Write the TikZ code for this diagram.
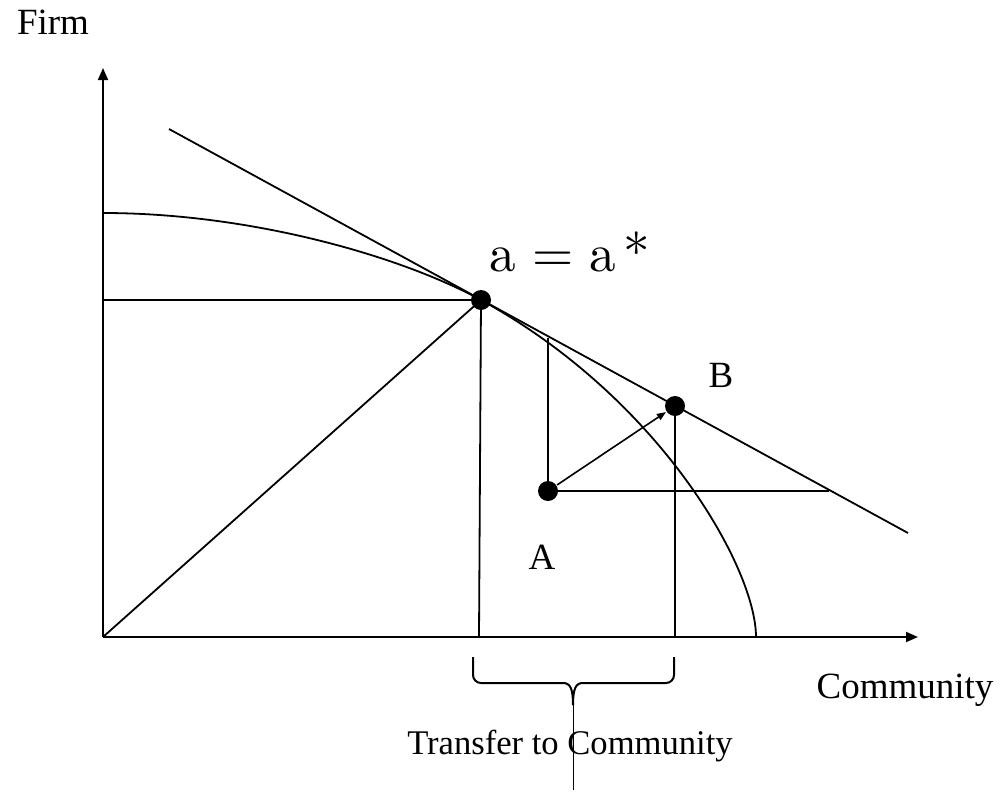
\documentclass[tikz,border=0pt]{standalone}
\usepackage{fontspec}
\setmainfont{Liberation Serif}
\newfontfamily\lmfont{lmroman10-regular.otf}
\usetikzlibrary{arrows.meta}
\begin{document}
\begin{tikzpicture}[x=1pt,y=-1pt,line width=1.8pt,line join=round,
  dot/.style={circle,fill=black,inner sep=0pt,minimum size=20pt},
  lbl/.style={font=\fontsize{37}{40}\selectfont,inner sep=0pt,anchor=center},
  lblsmall/.style={font=\fontsize{34.6}{38}\selectfont,inner sep=0pt,anchor=center},
  big/.style={font=\lmfont\fontsize{53}{57}\selectfont,inner sep=0pt,anchor=base},
  axis/.style={-{Triangle[length=12pt,width=10pt]}},
  move/.style={-{Triangle[length=9pt,width=7pt]},line width=1.6pt}]
\useasboundingbox (0,0) rectangle (1002,793);
% coordinates
\coordinate (O) at (103,637);
\coordinate (ytip) at (103,68);
\coordinate (xtip) at (918,637);
\coordinate (T1) at (169,129);
\coordinate (T2) at (908,533);
\coordinate (Y0) at (103,213);
\coordinate (Yh) at (103,300);
\coordinate (X0) at (756,637);
\coordinate (Sb) at (479,637);
\coordinate (Bb) at (675,637);
\coordinate (Av) at (548,338);
\coordinate (Ah) at (829,491);
% points
\node[dot] (S) at (481,300) {};
\node[dot] (A) at (548,491) {};
\node[dot] (B) at (675,406) {};
% axes
\draw[axis] (O) -- (ytip);
\draw[axis] (O) -- (xtip);
% tangent line
\draw (T1) -- (T2);
% frontier curve
\draw (Y0) .. controls (250,213) and (400,255.7) .. (S.center)
           .. controls (660,398) and (756,568) .. (X0);
% lines from tangent point
\draw (Yh) -- (S.center);
\draw (O) -- (S.center);
\draw (S.center) -- (Sb);
% lines from A
\draw (A.center) -- (Av);
\draw (A.center) -- (Ah);
\draw[move] (A) -- (B);
% line from B
\draw (B.center) -- (Bb);
% brace
\coordinate (Bl) at (473,657);
\coordinate (Br) at (674,657);
\coordinate (Bm) at (573,705);
\coordinate (Bend) at (573,790);
\draw[line width=2pt] (Bl) -- (473,675) arc[start angle=180,end angle=90,x radius=8pt,y radius=-8pt] -- (563,683)
   .. controls (570,683) and (573,688) .. (Bm);
\draw[line width=2pt] (Br) -- (674,675) arc[start angle=0,end angle=90,x radius=8pt,y radius=-8pt] -- (583,683)
   .. controls (576,683) and (573,688) .. (Bm);
% labels
\node[lbl] (firm) at (53,22) {Firm};
\node[lbl] (comm) at (905,690) {Community};
\node[lblsmall] (transfer) at (570,746) {Transfer to Community};
\node[lbl] (la) at (542,557) {A};
\node[lbl] (lb) at (721,375) {B};
\node[big] (astar) at (570,271) {a\hspace{0.3em}=\hspace{0.3em}a\hspace{0.15em}*};
\draw[line width=1pt] (Bm) -- (Bend);
\end{tikzpicture}
\end{document}
